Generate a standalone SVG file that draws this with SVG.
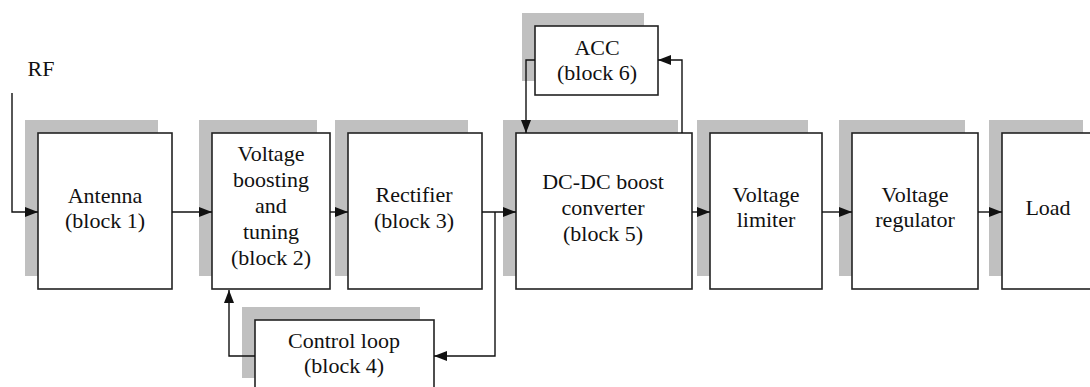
<svg xmlns="http://www.w3.org/2000/svg" width="1090" height="387" viewBox="0 0 1090 387">
<style>
.sh{fill:#c0c0c0;stroke:none}
.bx{fill:#fff;stroke:#222;stroke-width:1.6}
text{font-family:"Liberation Serif","Times New Roman",serif;font-size:22px;fill:#111;text-anchor:middle}
.c{fill:none;stroke:#111;stroke-width:1.4;marker-end:url(#ah)}
</style>
<defs>
<marker id="ah" markerUnits="userSpaceOnUse" markerWidth="13" markerHeight="10" refX="13" refY="5" orient="auto">
<path d="M0,0 L13,5 L0,10 z" fill="#111"/>
</marker>
</defs>
<rect width="1090" height="387" fill="#fff"/>
<text x="41" y="76">RF</text>
<g id="block1">
<rect class="sh" x="25" y="120" width="133" height="156"/>
<rect class="bx" x="38" y="133" width="134" height="156"/>
<text x="105" y="203">Antenna</text>
<text x="105" y="228">(block 1)</text>
</g>
<g id="block2">
<rect class="sh" x="199" y="120" width="118" height="156"/>
<rect class="bx" x="212" y="133" width="118" height="156"/>
<text x="271" y="161">Voltage</text>
<text x="271" y="187">boosting</text>
<text x="271" y="213">and</text>
<text x="271" y="239">tuning</text>
<text x="271" y="265">(block 2)</text>
</g>
<g id="block3">
<rect class="sh" x="335" y="120" width="133" height="156"/>
<rect class="bx" x="348" y="133" width="134" height="156"/>
<text x="414" y="202">Rectifier</text>
<text x="414" y="228">(block 3)</text>
</g>
<g id="block4">
<rect class="sh" x="242" y="307" width="178" height="71"/>
<rect class="bx" x="255" y="320" width="179" height="80"/>
<text x="344" y="348">Control loop</text>
<text x="344" y="373">(block 4)</text>
</g>
<g id="block5">
<rect class="sh" x="503" y="120" width="175" height="156"/>
<rect class="bx" x="516" y="133" width="176" height="156"/>
<text x="603" y="189">DC-DC boost</text>
<text x="603" y="215">converter</text>
<text x="603" y="241">(block 5)</text>
</g>
<g id="block6">
<rect class="sh" x="522" y="13" width="122" height="68"/>
<rect class="bx" x="535" y="26" width="123" height="69"/>
<text x="597" y="55">ACC</text>
<text x="597" y="80">(block 6)</text>
</g>
<g id="block7">
<rect class="sh" x="697" y="120" width="111" height="156"/>
<rect class="bx" x="710" y="133" width="112" height="156"/>
<text x="766" y="202">Voltage</text>
<text x="766" y="227">limiter</text>
</g>
<g id="block8">
<rect class="sh" x="839" y="120" width="126" height="156"/>
<rect class="bx" x="852" y="133" width="126" height="156"/>
<text x="915" y="202">Voltage</text>
<text x="915" y="227">regulator</text>
</g>
<g id="block9">
<rect class="sh" x="989" y="120" width="94" height="156"/>
<rect class="bx" x="1002" y="133" width="100" height="156"/>
<text x="1048" y="215">Load</text>
</g>
<g id="connectors">
<path class="c" d="M12,93 V212 H38"/>
<path class="c" d="M172,212 H212"/>
<path class="c" d="M330,212 H348"/>
<path class="c" d="M482,212 H516"/>
<path class="c" d="M692,212 H710"/>
<path class="c" d="M822,212 H852"/>
<path class="c" d="M978,212 H1002"/>
<path class="c" d="M495,212 V356 H434"/>
<path class="c" d="M255,356 H229 V290"/>
<path class="c" d="M535,60 H526 V133"/>
<path class="c" d="M682,133 V60 H658"/>
</g>
</svg>
